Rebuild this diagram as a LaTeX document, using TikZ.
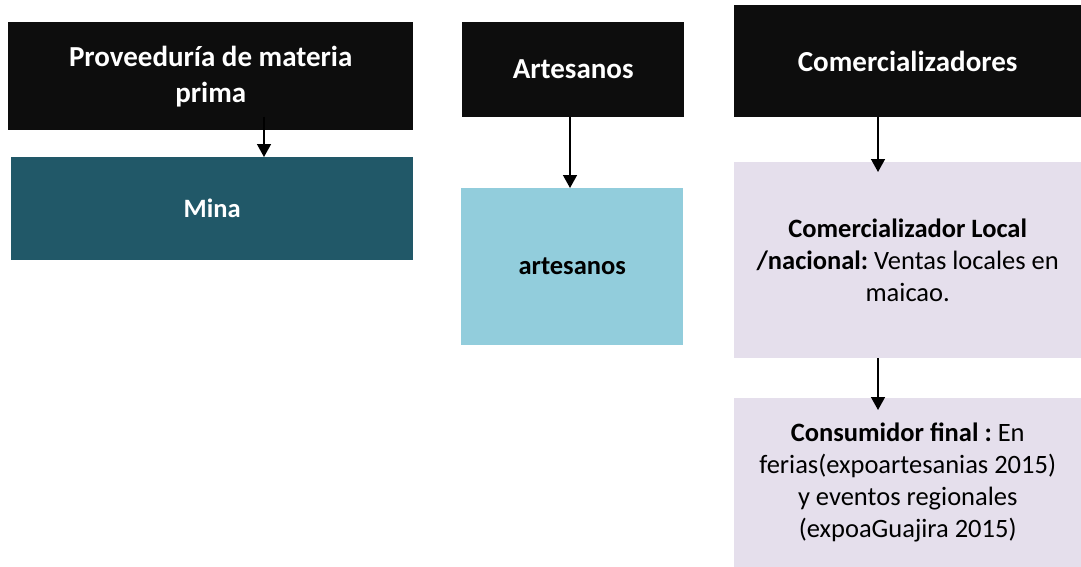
\documentclass[tikz,border=0pt]{standalone}
\usepackage{fontspec}
\setmainfont{Carlito}
\usetikzlibrary{arrows.meta}
\definecolor{headblack}{HTML}{0D0D0D}
\definecolor{minateal}{HTML}{215868}
\definecolor{artblue}{HTML}{92CDDC}
\definecolor{lavender}{HTML}{E5DFEC}
\frenchspacing
\tikzset{
  box/.style={anchor=north west, inner sep=0pt, align=center},
  headbox/.style={box, fill=headblack, text=white, font=\fontsize{29}{36}\selectfont\bfseries},
  bodybox/.style={box, font=\fontsize{26.5}{32}\selectfont},
  flow/.style={black, line width=1.5pt, -{Triangle[width=14pt,length=13pt]}}
}
\begin{document}
\begin{tikzpicture}[x=1pt,y=-1pt]
\useasboundingbox (0,0) rectangle (1081,567);
% column headers
\node[headbox, minimum width=405pt, minimum height=108pt] (prov) at (8,22) {Proveeduría de materia\\prima};
\node[headbox, minimum width=222pt, minimum height=95pt] (arthead) at (462,22) {Artesanos};
\node[headbox, minimum width=347pt, minimum height=112pt] (comhead) at (734,5) {Comercializadores};
% boxes below
\node[bodybox, fill=minateal, text=white, minimum width=402pt, minimum height=103pt] (mina) at (11,157) {\bfseries Mina};
\node[bodybox, fill=artblue, minimum width=222pt, minimum height=157pt] (art) at (461,188) {\bfseries artesanos};
\node[bodybox, fill=lavender, minimum width=347pt, minimum height=196pt] (local) at (734,162) {\textbf{Comercializador Local}\\\textbf{/nacional:} Ventas locales en\\maicao.};
\node[bodybox, fill=lavender, minimum width=347pt, minimum height=169pt] (cons) at (734,398) {\textbf{Consumidor final :} En\\ferias(expoartesanias 2015)\\y eventos regionales\\(expoaGuajira 2015)};
% arrows
\coordinate (a1) at (264,117);
\coordinate (a2) at (570,117);
\coordinate (a3) at (878,117);
\coordinate (a4) at (878,358);
\draw[flow] (a1) -- (a1 |- mina.north);
\draw[flow] (a2) -- (a2 |- art.north);
\draw[flow, shorten >=-10pt] (a3) -- (a3 |- local.north);
\draw[flow, shorten >=-12pt] (a4) -- (a4 |- cons.north);
\end{tikzpicture}
\end{document}
